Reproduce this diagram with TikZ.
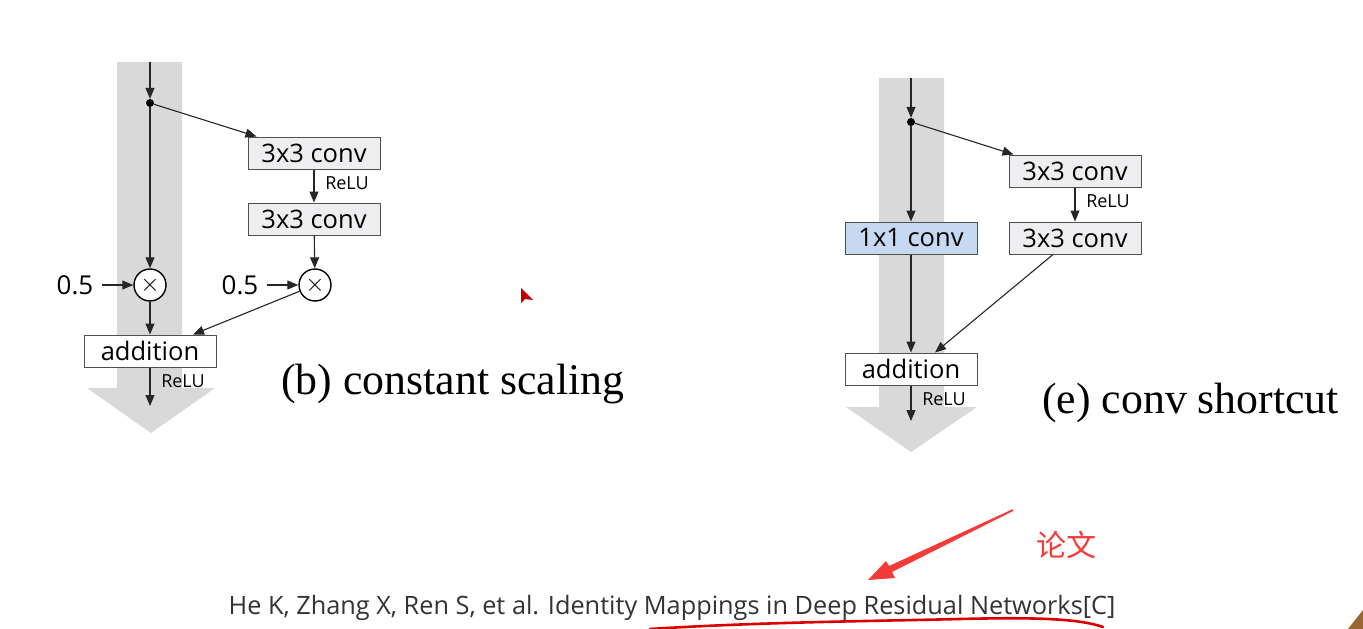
\documentclass[tikz,border=0pt]{standalone}
\usepackage{fontspec}
\setmainfont{Liberation Serif}
\newfontfamily\boxfont{Open Sans}
\newfontfamily\cjkfont{Noto Sans CJK SC}
\usetikzlibrary{arrows.meta,calc}
\definecolor{bandgray}{HTML}{D9D9D9}
\definecolor{boxgray}{HTML}{EEEEF0}
\definecolor{boxedge}{HTML}{505050}
\definecolor{bluebox}{HTML}{C6D9F0}
\definecolor{annred}{HTML}{F53A3A}
\definecolor{citegray}{HTML}{333333}
\tikzset{
  conn/.style={draw=black!85, line width=1.1pt, -{Triangle[length=11pt,width=9pt]}},
  opbox/.style={draw=boxedge, line width=1pt, fill=boxgray, minimum width=132pt, minimum height=32pt, inner sep=0pt, font=\boxfont\fontsize{25.5}{28}\selectfont},
  addbox/.style={opbox, fill=white},
  convblue/.style={opbox, fill=bluebox},
  mult/.style={circle, draw=black, line width=1.4pt, fill=white, minimum size=32pt, inner sep=0pt, font=\fontsize{30}{32}\selectfont},
  junction/.style={circle, fill=black, inner sep=0pt, minimum size=8pt},
  relu/.style={font=\boxfont\fontsize{18}{20}\selectfont, inner sep=0pt},
  scal/.style={font=\boxfont\fontsize{26}{28}\selectfont, inner sep=0pt},
  caption/.style={font=\fontsize{43.8}{46}\selectfont, inner sep=0pt},
  band/.style={fill=bandgray, draw=none}
}
\begin{document}
\begin{tikzpicture}[x=1pt,y=-1pt]
\useasboundingbox[fill=white] (0,0) rectangle (1363,629);

% ---------- (b) constant scaling ----------
\fill[band] (117,62) -- (182,62) -- (182,388) -- (215,388) -- (151,433) -- (87,388) -- (117,388) -- cycle;
\coordinate (topL) at (150,62);
\node[junction] (dotL) at (150,103) {};
\node[opbox] (c1) at (314,153) {3x3 conv};
\node[opbox] (c2) at (314,219) {3x3 conv};
\node[mult] (m1) at (150,285) {$\times$};
\node[mult] (m2) at (315,285) {$\times$};
\node[scal] (h1) at (75,285) {0.5};
\node[scal] (h2) at (240,285) {0.5};
\node[addbox] (addL) at (150,351) {addition};
\coordinate (outL) at (150,406);
\node[relu] at (347,183) {ReLU};
\node[relu] at (183,381) {ReLU};
\node[caption, anchor=west] (capb) at (281,384) {(b) constant scaling};

\draw[conn] (topL) -- (dotL);
\draw[conn] (dotL) -- ($(c1.north west)+(9,0)$);
\draw[conn] (dotL) -- (m1);
\draw[conn] (c1) -- (c2);
\draw[conn] (c2) -- (m2);
\draw[conn] ($(h1.east)+(8,0)$) -- (m1.west);
\draw[conn] ($(h2.east)+(8,0)$) -- (m2.west);
\draw[conn] (m1) -- (addL);
\draw[conn] (m2) -- ($(addL.north)+(43,0)$);
\draw[conn] (addL) -- (outL);

% ---------- (e) conv shortcut ----------
\fill[band] (879,78) -- (944,78) -- (944,407) -- (977,407) -- (911,452) -- (846,407) -- (879,407) -- cycle;
\coordinate (topR) at (911,78);
\node[junction] (dotR) at (911,122) {};
\node[opbox] (c3) at (1075,171) {3x3 conv};
\node[opbox] (c4) at (1075,238) {3x3 conv};
\node[convblue] (c11) at (911,238) {1x1 conv};
\node[addbox] (addR) at (911,369) {addition};
\coordinate (outR) at (911,421);
\node[relu] at (1108,201) {ReLU};
\node[relu] at (944,399) {ReLU};
\node[caption, anchor=west] (cape) at (1042,403) {(e) conv shortcut};

\draw[conn] (topR) -- (dotR);
\draw[conn] (dotR) -- ($(c3.north west)+(5,0)$);
\draw[conn] (dotR) -- (c11);
\draw[conn] (c3) -- (c4);
\draw[conn] (c11) -- (addR);
\draw[conn] ($(c4.south)+(-22,0)$) -- ($(addR.north)+(24,0)$);
\draw[conn] (addR) -- (outR);

% ---------- citation & annotations ----------
\node[font=\boxfont\fontsize{25.3}{28}\selectfont, text=citegray, inner sep=0pt] (cite) at (672,608) {He K, Zhang X, Ren S, et al. Identity Mappings in Deep Residual Networks[C]};
\node[font=\cjkfont\fontsize{30}{32}\selectfont, text=annred, inner sep=0pt] (lunwen) at (1066,545) {论文};
% tapering brush arrow
\coordinate (arrTail) at (1013,510);
\coordinate (arrTip) at (868,580);
\fill[annred] ($(arrTail)+(0.4,0.8)$) -- (892,572) -- (895,578) -- (arrTip) -- (886,561) -- (889,566) -- ($(arrTail)+(-0.4,-0.8)$) -- cycle;
\coordinate (ulA) at (650,629);
\coordinate (ulB) at (960,619);
\coordinate (ulC) at (1103,627);
\draw[red!85!black, line width=2.6pt, line cap=round] (ulA) .. controls (760,622) and (880,621) .. (ulB) .. controls (1040,617) and (1080,619) .. (ulC);

% mouse cursor and corner fragment
\fill[red!75!black] (521,288) -- (521,303) -- (525,299) -- (533,300) -- cycle;
\fill[brown!80!black] (1348,629) -- (1363,610) -- (1363,629) -- cycle;
\end{tikzpicture}
\end{document}
